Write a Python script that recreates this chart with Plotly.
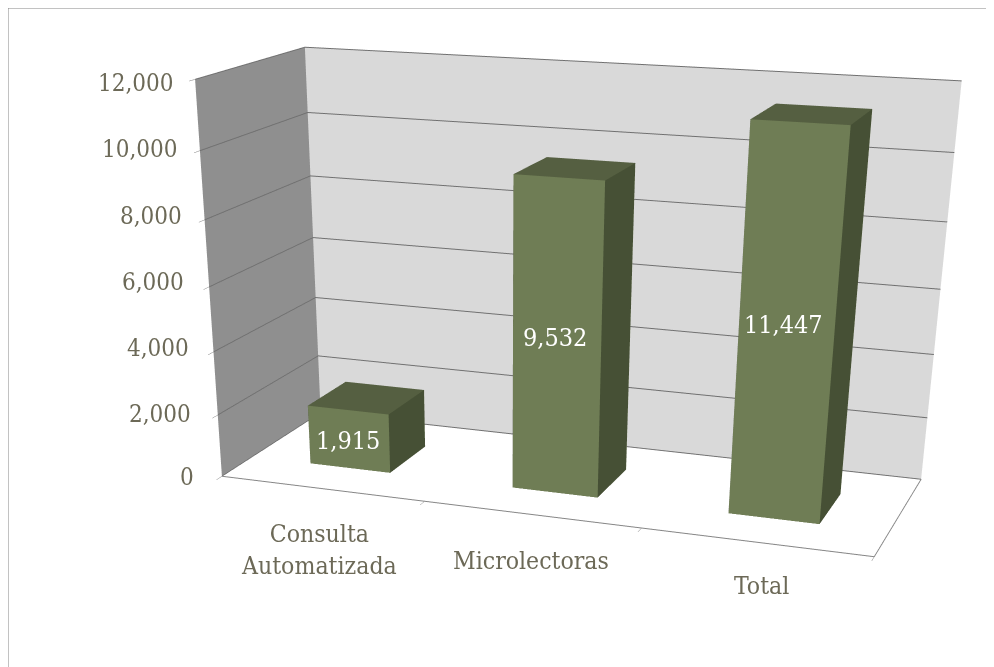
import plotly.graph_objects as go

categories = ["Consulta<br>Automatizada", "Microlectoras", "Total"]
values = [1915, 9532, 11447]
value_labels = ["1,915", "9,532", "11,447"]
z_ticks = [0, 2000, 4000, 6000, 8000, 10000, 12000]
z_text = ["0", "2,000", "4,000", "6,000", "8,000", "10,000", "12,000"]

# Layout and camera
W, H = 986, 1700
eye = dict(x=1.354, y=-4.072, z=1.003)
center = dict(x=0.224, y=-1.035, z=-0.77)
aspect = dict(x=1.424, y=0.508, z=0.812)
half_width = 0.201
depth_front, depth_back = 0.292, 0.687

FONT = "DejaVu Serif Condensed"
TEXT = "#6c6957"
LINE = "#868686"
front, top, side = "#6f7d55", "#555f41", "#465035"

fig = go.Figure()
for i, v in enumerate(values):
    x0, x1 = i + 0.5 - half_width, i + 0.5 + half_width
    y0, y1 = depth_front, depth_back
    fig.add_trace(go.Mesh3d(
        x=[x0, x1, x1, x0, x0, x1, x1, x0],
        y=[y0, y0, y1, y1, y0, y0, y1, y1],
        z=[0, 0, 0, 0, v, v, v, v],
        i=[0, 0, 1, 1, 4, 4, 3, 3, 0, 0],
        j=[1, 5, 2, 6, 5, 6, 2, 6, 3, 7],
        k=[5, 4, 6, 5, 6, 7, 6, 7, 7, 4],
        facecolor=[front, front, side, side, top, top, front, front, side, side],
        flatshading=True,
        lighting=dict(ambient=1, diffuse=0, specular=0, fresnel=0, roughness=1),
        hoverinfo="skip",
    ))

ann = []
value_shift = [(-1, -1), (-2, 3), (-3, 5)]
for i, v in enumerate(values):
    ann.append(dict(x=i + 0.5, y=depth_front, z=v / 2, text=value_labels[i], showarrow=False,
                    xshift=value_shift[i][0], yshift=value_shift[i][1],
                    font=dict(color="white", size=25, family=FONT)))
tick_shift = [(-26, -1), (-25, 1), (-23, 4), (-23, 5), (-21, 4), (-20, 2), (-19, -4)]
for zv, t, s in zip(z_ticks, z_text, tick_shift):
    ann.append(dict(x=0, y=0, z=zv, text=t, showarrow=False, xanchor="right",
                    xshift=s[0], yshift=s[1], font=dict(color=TEXT, size=24, family=FONT)))
cat_shift = [(-3, -61), (0, -46), (6, -43)]
for i, c in enumerate(categories):
    ann.append(dict(x=i + 0.5, y=0, z=0, text=c, showarrow=False,
                    xshift=cat_shift[i][0], yshift=cat_shift[i][1],
                    font=dict(color=TEXT, size=24.6, family=FONT)))

ax = dict(showspikes=False, title="", zeroline=False)
fig.update_layout(
    width=W, height=H, margin=dict(l=0, r=0, t=0, b=0), paper_bgcolor="white", showlegend=False,
    shapes=[dict(type="rect", xref="paper", yref="paper", x0=0, x1=1.2, y0=-0.2, y1=1,
                 line=dict(color=LINE, width=1))],
    scene=dict(
        domain=dict(x=[0, 1], y=[0, 1]), aspectmode="manual", aspectratio=aspect,
        camera=dict(eye=eye, center=center, up=dict(x=0, y=0, z=1)),
        annotations=ann,
        xaxis=dict(ax, range=[0, 3], tickvals=[0, 1, 2, 3], ticktext=[" "] * 4, ticks="outside", ticklen=6,
                   tickcolor=LINE, showgrid=False, showbackground=True, backgroundcolor="#8f8f8f",
                   showline=True, linecolor=LINE, linewidth=2),
        yaxis=dict(ax, range=[0, 1], showticklabels=False, ticks="", showgrid=False, showbackground=True,
                   backgroundcolor="#d9d9d9", showline=True, linecolor=LINE, linewidth=2),
        zaxis=dict(ax, range=[0, 12000], tickvals=z_ticks, ticktext=[" "] * 7, ticks="outside", ticklen=6,
                   tickcolor=LINE, gridcolor="#707070", gridwidth=2, showgrid=True, showbackground=True,
                   backgroundcolor="white", showline=False),
    ),
)
fig.write_html("out.html")
